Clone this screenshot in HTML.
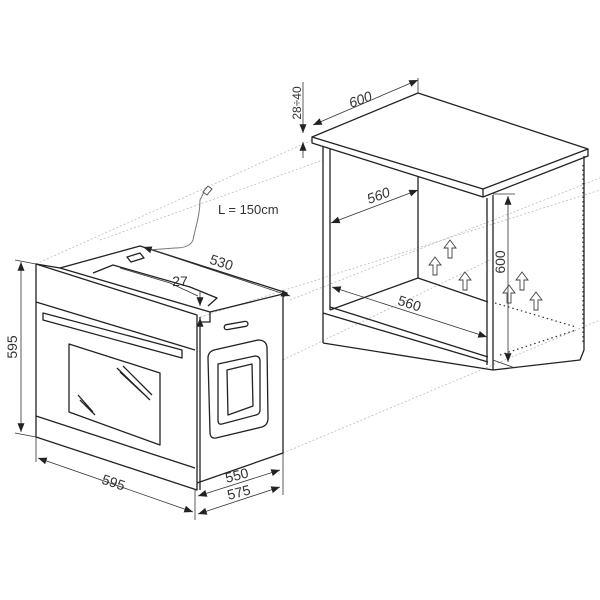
<!DOCTYPE html>
<html><head><meta charset="utf-8"><style>
html,body{margin:0;padding:0;background:#fff;width:600px;height:600px;overflow:hidden}
text{font-family:"Liberation Sans",sans-serif;fill:#333}
</style></head><body>
<svg width="600" height="600" viewBox="0 0 600 600" xmlns="http://www.w3.org/2000/svg">
<defs>
<marker id="a" viewBox="0 0 10 10" refX="10" refY="5" markerWidth="11" markerHeight="11" orient="auto-start-reverse"><path d="M0,1 L10,5 L0,9 z" fill="#222"/></marker>
</defs>
<g stroke="#bbb" stroke-width="0.8" stroke-dasharray="2,2" fill="none">
<line x1="36" y1="264" x2="312" y2="140"/>
<line x1="200" y1="317" x2="600" y2="190"/>
<line x1="290" y1="300" x2="600" y2="178"/>
<line x1="283" y1="453" x2="600" y2="320"/>
<line x1="283" y1="360" x2="490" y2="260"/>
<line x1="100" y1="240" x2="323" y2="160"/>
</g>
<g stroke="#222" stroke-width="1.3" fill="none" stroke-linejoin="round">
<polygon points="36,264 197,315 197,490 36,437"/>
<line x1="36" y1="302" x2="195" y2="350"/>
<line x1="36" y1="416" x2="195" y2="468"/>
<line x1="200" y1="317" x2="200" y2="490"/>
<polyline points="36,264 60,268 140,246 287,293 283,297 283,453 197,483"/>
<polyline points="60,268 210,312 210,322 200,322"/>
<polyline points="93,273 113,265 190,287 217,298 208,306"/>
<line x1="210" y1="312" x2="287" y2="293"/>
<polygon points="43,313 182,350 182,358 43,320"/>
<polygon points="69,344 160,373 160,445 69,412"/>
<path d="M117,368 L150,400 M120,372 L148,398 M123,366 L152,395 M78,395 L93,412 M80,400 L95,415"/>
<path d="M208,358 Q208,352 214,350 L258,340 Q266,340 267,347 L268,418 Q268,425 262,427 L216,438 Q210,439 210,432 Z"/>
<path d="M218,364 L255,356 Q260,356 260,361 L260,410 Q260,414 256,415 L222,424 Q218,425 218,420 Z"/>
<path d="M227,370 L252,364 L253,406 L228,415 Z"/>
<rect x="224" y="323" width="24" height="5" rx="2.5" transform="rotate(-10 236 325)"/>
<path d="M127,257 L140,253 L144,258 L131,262 Z"/>
<polygon points="312,137 418,93 588,149 483,189"/>
<polyline points="312,137 312,143 483,197 588,156 588,149"/>
<line x1="483" y1="189" x2="483" y2="197"/>
<line x1="323" y1="147" x2="323" y2="343"/>
<line x1="330" y1="149" x2="330" y2="310"/>
<line x1="418" y1="176" x2="418" y2="278"/>
<line x1="487" y1="198" x2="487" y2="365"/>
<line x1="493" y1="195" x2="493" y2="370"/>
<polyline points="330,310 418,278 488,302"/>
<polyline points="330,307 488,357"/>
<polyline points="323,313 488,362"/>
<polyline points="323,343 493,370"/>
<polyline points="584,156 584,350 580,360 493,370"/>
</g>
<path d="M148,250 L175,248 Q190,248 193,240 C196,225 200,215 200,200 L205,190" stroke="#777" stroke-width="1" fill="none"/>
<path d="M203,192 l5,-6 l4,3 l-5,6z" fill="#fff" stroke="#555"/>
<g stroke="#333" stroke-width="1.2" stroke-dasharray="1.5,3" fill="none">
<line x1="583" y1="165" x2="583" y2="345"/>
<line x1="495" y1="303" x2="576" y2="327"/>
<line x1="500" y1="355" x2="576" y2="330"/>
</g>
<g fill="#fff" stroke="#444" stroke-width="0.9">
<path d="M433,275 v-10 h-4 l6,-8 6,8 h-4 v10z"/>
<path d="M448,258 v-10 h-4 l6,-8 6,8 h-4 v10z"/>
<path d="M463,290 v-10 h-4 l6,-8 6,8 h-4 v10z"/>
<path d="M507,303 v-10 h-4 l6,-8 6,8 h-4 v10z"/>
<path d="M520,290 v-10 h-4 l6,-8 6,8 h-4 v10z"/>
<path d="M534,310 v-10 h-4 l6,-8 6,8 h-4 v10z"/>
</g>
<g stroke="#333" stroke-width="0.8" fill="none">
<line x1="21" y1="262" x2="21" y2="432" marker-start="url(#a)" marker-end="url(#a)"/>
<line x1="15" y1="260" x2="36" y2="264"/><line x1="15" y1="433" x2="36" y2="437"/>
<line x1="38" y1="458" x2="193" y2="512" marker-start="url(#a)" marker-end="url(#a)"/>
<line x1="36" y1="437" x2="36" y2="462"/><line x1="195" y1="490" x2="195" y2="520"/>
<line x1="198" y1="496" x2="280" y2="470" marker-start="url(#a)" marker-end="url(#a)"/>
<line x1="198" y1="514" x2="280" y2="487" marker-start="url(#a)" marker-end="url(#a)"/>
<line x1="283" y1="453" x2="283" y2="495"/>
<line x1="143" y1="247" x2="290" y2="296" marker-start="url(#a)" marker-end="url(#a)"/>
<polyline points="120,268 170,283 198,296"/>
<line x1="200" y1="292" x2="200" y2="306" marker-end="url(#a)"/>
<line x1="200" y1="330" x2="200" y2="318" marker-end="url(#a)"/>
<line x1="313" y1="125" x2="418" y2="80" marker-start="url(#a)" marker-end="url(#a)"/>
<line x1="418" y1="78" x2="418" y2="93"/>
<line x1="303" y1="82" x2="303" y2="133" marker-end="url(#a)"/>
<line x1="303" y1="158" x2="303" y2="142" marker-end="url(#a)"/>
<line x1="331" y1="223" x2="418" y2="190" marker-start="url(#a)" marker-end="url(#a)"/>
<line x1="332" y1="287" x2="487" y2="337" marker-start="url(#a)" marker-end="url(#a)"/>
<line x1="508" y1="196" x2="508" y2="362" marker-start="url(#a)" marker-end="url(#a)"/>
<line x1="493" y1="194" x2="515" y2="194"/><line x1="493" y1="360" x2="515" y2="368"/>
</g>
<g font-size="14">
<text x="0" y="0" transform="translate(17,347) rotate(-90)" text-anchor="middle">595</text>
<text x="0" y="0" transform="translate(112,487) rotate(18)" text-anchor="middle">595</text>
<text x="0" y="0" transform="translate(238,480) rotate(-14)" text-anchor="middle">550</text>
<text x="0" y="0" transform="translate(240,497) rotate(-14)" text-anchor="middle">575</text>
<text x="0" y="0" transform="translate(220,267) rotate(18)" text-anchor="middle">530</text>
<text x="180" y="286" text-anchor="middle">27</text>
<text x="218" y="214" font-size="13">L = 150cm</text>
<text x="0" y="0" transform="translate(362,104) rotate(-20)" text-anchor="middle" font-style="italic">600</text>
<text x="0" y="0" transform="translate(301,103) rotate(-90)" text-anchor="middle" font-size="12">28÷40</text>
<text x="0" y="0" transform="translate(380,200) rotate(-20)" text-anchor="middle" font-style="italic">560</text>
<text x="0" y="0" transform="translate(408,308) rotate(18)" text-anchor="middle">560</text>
<text x="0" y="0" transform="translate(505,262) rotate(-90)" text-anchor="middle">600</text>
</g>
</svg>
</body></html>
